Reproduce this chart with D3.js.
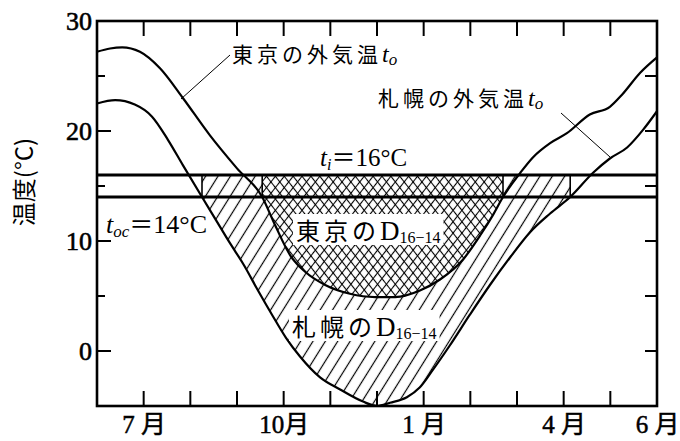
<!DOCTYPE html>
<html>
<head>
<meta charset="utf-8">
<script src="https://cdn.jsdelivr.net/npm/d3@7"></script>
<style>
  body { margin: 0; background: #fff; }
  text { fill: #000; }
</style>
</head>
<body>
<script>
// 東京・札幌の外気温 (月: 0 = 6月1日, 12 = 翌年6月1日)
const tokyoMonth = [0, 0.28, 0.54, 0.92, 1.35, 1.84, 2.42, 3.0, 3.54, 3.81, 4.14, 4.46, 4.89, 5.42, 5.96,
                    6.39, 6.92, 7.35, 7.84, 8.21, 8.49, 8.70, 9.07, 9.34, 9.71, 10.07, 10.56, 10.99, 11.25, 11.64, 12];
const tokyoTemp  = [27.2, 27.5, 27.6, 27.2, 25.7, 23.0, 19.6, 16.6, 14.0, 11.5, 8.7, 7.2, 6.0, 5.2, 4.9,
                    4.9, 5.5, 6.5, 8.3, 10.5, 12.4, 14.0, 16.2, 17.6, 18.9, 19.8, 21.5, 22.2, 23.3, 25.3, 26.7];

const sapporoMonth = [0, 0.39, 0.81, 1.18, 1.52, 1.84, 2.25, 2.55, 2.85, 3.15, 3.45, 3.75, 4.05, 4.35, 4.78, 5.21, 5.70,
                      6.00, 6.28, 6.64, 6.92, 7.20, 7.56, 7.99, 8.42, 8.85, 9.28, 9.71, 10.14, 10.63, 10.99, 11.36, 11.70, 12];
const sapporoTemp  = [22.5, 22.8, 22.4, 21.3, 19.2, 16.9, 14.0, 11.9, 9.8, 7.8, 5.5, 3.3, 1.2, -0.5, -2.4, -3.5, -4.6,
                      -5.0, -4.7, -4.2, -3.3, -1.7, 0.5, 3.3, 6.0, 8.5, 10.8, 12.5, 14.0, 16.2, 17.5, 18.5, 20.1, 21.8];

const tIn = 16;   // 室温
const tOc = 14;   // 暖房限界温度

const xTickLabels = ["7 月", "10月", "1 月", "4 月", "6 月"];
const xTickAt     = [1, 4, 7, 10, 12];
const yTickLabels = [0, 10, 20, 30];
const monthTicks  = [1, 2, 3, 4, 5, 6, 7, 8, 9, 10, 11];
const tempTicks   = [0, 5, 10, 15, 20, 25];

const w = 680, h = 441;
const x = d3.scaleLinear().domain([0, 12]).range([97, 657]);
const y = d3.scaleLinear().domain([-5, 30]).range([406, 21]);

const tokyo = tokyoMonth.map((m, i) => ({ m: m, t: tokyoTemp[i] }));
const sapporo = sapporoMonth.map((m, i) => ({ m: m, t: sapporoTemp[i] }));

const serif = "'Liberation Serif', 'DejaVu Serif', serif";
const jp = "'Noto Sans CJK JP', sans-serif";

const svg = d3.select("body").append("svg")
  .attr("width", w).attr("height", h);

const defs = svg.append("defs");
function hatch(id, angle, gap, sw) {
  defs.append("pattern")
    .attr("id", id)
    .attr("patternUnits", "userSpaceOnUse")
    .attr("width", gap).attr("height", gap)
    .attr("patternTransform", "rotate(" + angle + ")")
    .append("line")
    .attr("x1", gap / 2).attr("x2", gap / 2)
    .attr("y1", 0).attr("y2", gap)
    .attr("stroke", "#000").attr("stroke-width", sw);
}
hatch("hatchS", 32, 10.5, 1.2);
hatch("hatchA", 38, 7, 1.1);
hatch("hatchB", -38, 7, 1.1);

// t が level を横切る月 (線形補間)
function crossings(data, level) {
  const out = [];
  for (let i = 0; i < data.length - 1; i++) {
    const a = data[i], b = data[i + 1];
    if (a.t === level) { out.push(a.m); continue; }
    if ((a.t - level) * (b.t - level) < 0) {
      out.push(a.m + (level - a.t) * (b.m - a.m) / (b.t - a.t));
    }
  }
  return out;
}

const areaD = d3.area()
  .x(d => x(d.m))
  .y0(y(tIn))
  .y1(d => y(Math.min(d.t, tIn)))
  .curve(d3.curveMonotoneX);

function degreeArea(data, id, fills) {
  const c = crossings(data, tOc);
  const c0 = c[0], c1 = c[c.length - 1];
  defs.append("clipPath").attr("id", id)
    .append("rect")
    .attr("x", x(c0)).attr("width", x(c1) - x(c0))
    .attr("y", 0).attr("height", h);
  fills.forEach(f => {
    svg.append("path")
      .datum(data)
      .attr("d", areaD)
      .attr("clip-path", "url(#" + id + ")")
      .attr("fill", f);
  });
  [c0, c1].forEach(m => {
    svg.append("line")
      .attr("x1", x(m)).attr("x2", x(m))
      .attr("y1", y(tIn)).attr("y2", y(tOc))
      .attr("stroke", "#000").attr("stroke-width", 1.6);
  });
}

degreeArea(sapporo, "clipS", ["#fff", "url(#hatchS)"]);
degreeArea(tokyo, "clipT", ["#fff", "url(#hatchA)", "url(#hatchB)"]);

// 室温・限界温度の線
[tIn, tOc].forEach(v => {
  svg.append("line")
    .attr("x1", x(0)).attr("x2", x(12))
    .attr("y1", y(v)).attr("y2", y(v))
    .attr("stroke", "#000").attr("stroke-width", 2.8);
});

const curve = d3.line().x(d => x(d.m)).y(d => y(d.t)).curve(d3.curveMonotoneX);
[tokyo, sapporo].forEach(data => {
  svg.append("path").datum(data)
    .attr("d", curve)
    .attr("fill", "none")
    .attr("stroke", "#000")
    .attr("stroke-width", 2.2);
});

// 枠
svg.append("rect")
  .attr("x", x(0)).attr("y", y(30))
  .attr("width", x(12) - x(0)).attr("height", y(-5) - y(30))
  .attr("fill", "none").attr("stroke", "#000").attr("stroke-width", 2.6);

// 内向きの目盛
function tick(x1, y1, x2, y2) {
  svg.append("line")
    .attr("x1", x1).attr("y1", y1)
    .attr("x2", x2).attr("y2", y2)
    .attr("stroke", "#000").attr("stroke-width", 2);
}
monthTicks.forEach(m => {
  tick(x(m), y(-5), x(m), y(-5) - 15);
  tick(x(m), y(30), x(m), y(30) + 15);
});
tempTicks.forEach(t => {
  tick(x(0), y(t), x(0) + (t % 10 === 0 ? 14 : 8), y(t));
  tick(x(12), y(t), x(12) - 12, y(t));
});

// 目盛ラベル
svg.append("g").attr("transform", "translate(" + (x(0) - 5) + ",0)")
  .call(d3.axisLeft(y).tickValues(yTickLabels).tickSize(0).tickPadding(0))
  .call(g => g.select(".domain").remove())
  .selectAll("text")
  .attr("font-family", serif).attr("font-size", 26)
  .attr("stroke", "#000").attr("stroke-width", 0.6);

svg.append("g").attr("transform", "translate(0," + (y(-5) + 9) + ")")
  .call(d3.axisBottom(x).tickValues(xTickAt).tickSize(0).tickPadding(0)
    .tickFormat((d, i) => xTickLabels[i]))
  .call(g => g.select(".domain").remove())
  .selectAll("text")
  .attr("font-family", serif + ", " + jp).attr("font-size", 25)
  .attr("stroke", "#000").attr("stroke-width", 0.5);

// 軸タイトル
svg.append("text")
  .attr("transform", "translate(33,182) rotate(-90)")
  .attr("text-anchor", "middle")
  .attr("font-family", jp).attr("font-size", 24)
  .text("温度(°C)");

// 凡例 (引き出し線)
function toLabel(px, py, name) {
  const t = svg.append("text").attr("x", px).attr("y", py)
    .attr("font-family", jp).attr("font-size", 21).attr("letter-spacing", 4);
  t.append("tspan").text(name);
  t.append("tspan").attr("font-family", serif).attr("font-style", "italic")
    .attr("letter-spacing", 0).attr("font-size", 24).text("t");
  t.append("tspan").attr("font-family", serif).attr("font-style", "italic")
    .attr("letter-spacing", 0).attr("font-size", 17).attr("dy", 3).text("o");
}
svg.append("line").attr("x1", 230).attr("y1", 55).attr("x2", 181).attr("y2", 99)
  .attr("stroke", "#000").attr("stroke-width", 1);
toLabel(232, 62, "東京の外気温");
svg.append("line").attr("x1", 561).attr("y1", 113).attr("x2", 610).attr("y2", 157)
  .attr("stroke", "#000").attr("stroke-width", 1);
toLabel(378, 106, "札幌の外気温");

// t_i = 16°C
const ti = svg.append("text").attr("x", 320).attr("y", 166)
  .attr("font-family", serif).attr("font-size", 25);
ti.append("tspan").attr("font-style", "italic").text("t");
ti.append("tspan").attr("font-style", "italic").attr("font-size", 16).attr("dy", 4).text("i");
ti.append("tspan").attr("dy", -4).attr("font-family", jp).attr("font-size", 24).text("＝");
ti.append("tspan").text("16°C");

// t_oc = 14°C
const toc = svg.append("text").attr("x", 106).attr("y", 233)
  .attr("font-family", serif).attr("font-size", 26);
toc.append("tspan").attr("font-style", "italic").text("t");
toc.append("tspan").attr("font-style", "italic").attr("font-size", 17).attr("dy", 4).text("oc");
toc.append("tspan").attr("dy", -4).attr("font-family", jp).attr("font-size", 24).text("＝");
toc.append("tspan").text("14°C");

// D ラベル
function dLabel(px, py, name) {
  const bg = svg.append("rect").attr("fill", "#fff");
  const t = svg.append("text").attr("x", px).attr("y", py)
    .attr("font-family", jp).attr("font-size", 24).attr("letter-spacing", 4);
  t.append("tspan").text(name);
  t.append("tspan").attr("font-family", serif).attr("letter-spacing", 0).attr("font-size", 27).text("D");
  t.append("tspan").attr("font-family", serif).attr("letter-spacing", 0).attr("font-size", 16).attr("dy", 3).text("16−14");
  const b = t.node().getBBox();
  bg.attr("x", b.x - 3).attr("y", b.y + 2).attr("width", b.width + 6).attr("height", b.height - 4);
}
dLabel(296, 240, "東京の");
dLabel(292, 336, "札幌の");
</script>
</body>
</html>
